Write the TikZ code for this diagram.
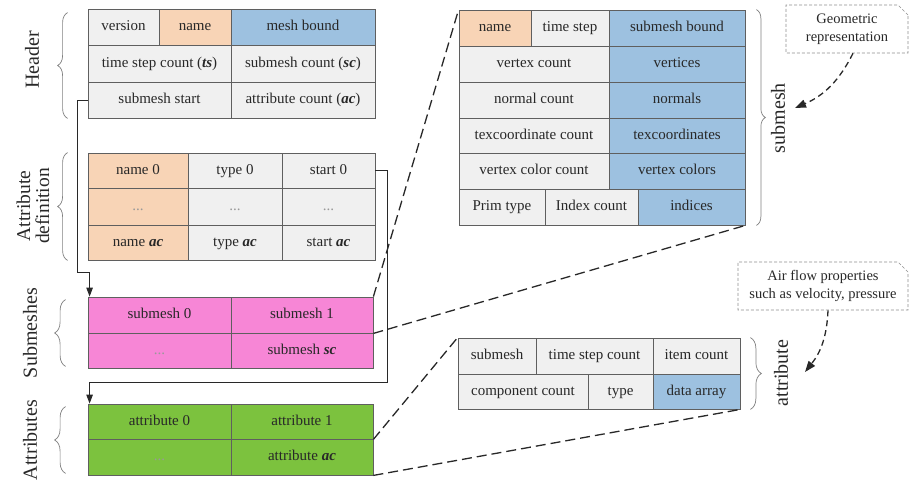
\documentclass[tikz,border=0pt]{standalone}
\usepackage{fontspec}
\setmainfont{Liberation Serif}
\usetikzlibrary{arrows.meta,decorations.pathreplacing,shapes.misc}

\definecolor{cellgray}{RGB}{240,240,240}
\definecolor{cellorange}{RGB}{248,212,182}
\definecolor{cellblue}{RGB}{157,193,224}
\definecolor{cellpink}{RGB}{247,134,214}
\definecolor{cellgreen}{RGB}{124,194,62}
\definecolor{edge}{RGB}{95,95,95}
\definecolor{ink}{RGB}{40,40,40}

% one table cell: name, x1, y1, x2, y2, fill, text
\newcommand\tcell[7]{%
  \node[cellbox, fill=#6, minimum width={(#4-#2)*1pt}, minimum height={(#5-#3)*1pt}]
    (#1) at ({(#2+#4)/2},{(#3+#5)/2}) {#7};}
\newcommand\bi[1]{\textbf{\textit{#1}}}
\newcommand\celldots{\textcolor{gray!80}{...}}

\tikzset{
  cellbox/.style={draw=edge, line width=0.8pt, inner sep=0pt, text=ink,
    text height=10pt, text depth=3pt, font=\fontsize{15}{17}\selectfont},
  brc/.style={decorate, decoration={brace, amplitude=#1}, draw=edge!80, line width=0.7pt},
  brc/.default=10pt,
  sidelabel/.style={rotate=90, text=ink, font=\fontsize{20}{18}\selectfont, align=center},
  conn/.style={draw=ink, line width=1pt, -{Triangle[length=9pt,width=6.5pt]}},
  zoomline/.style={draw=ink, line width=1.3pt, dash pattern=on 10pt off 5pt},
  note/.style={chamfered rectangle, chamfered rectangle corners=north east,
    chamfered rectangle xsep=5pt, chamfered rectangle ysep=5pt,
    draw=edge!70, line width=0.6pt, dash pattern=on 3pt off 2pt,
    inner sep=0pt, align=center, text=ink, font=\fontsize{14.5}{18}\selectfont},
  callarrow/.style={draw=ink, line width=1.3pt, dash pattern=on 6pt off 4pt,
    -{Triangle[length=11pt,width=8pt]}},
}

\begin{document}
\begin{tikzpicture}[x=1pt, y=-1pt]
\useasboundingbox (0,0) rectangle (910,485);

% ---- header ----
\tcell{hver}{88}{9}{159}{45}{cellgray}{version}
\tcell{hname}{159}{9}{231}{45}{cellorange}{name}
\tcell{hbound}{231}{9}{375}{45}{cellblue}{mesh bound}
\tcell{hts}{88}{45}{231}{82}{cellgray}{time step count (\bi{ts})}
\tcell{hsc}{231}{45}{375}{82}{cellgray}{submesh count (\bi{sc})}
\tcell{hss}{88}{82}{231}{118}{cellgray}{submesh start}
\tcell{hac}{231}{82}{375}{118}{cellgray}{attribute count (\bi{ac})}

% ---- attribute definition ----
\tcell{an0}{88}{153}{188}{188}{cellorange}{name 0}
\tcell{at0c}{188}{153}{282}{188}{cellgray}{type 0}
\tcell{as0}{282}{153}{375}{188}{cellgray}{start 0}
\tcell{and}{88}{188}{188}{225}{cellorange}{\celldots}
\tcell{atd}{188}{188}{282}{225}{cellgray}{\celldots}
\tcell{asd}{282}{188}{375}{225}{cellgray}{\celldots}
\tcell{anac}{88}{225}{188}{260}{cellorange}{name \bi{ac}}
\tcell{atac}{188}{225}{282}{260}{cellgray}{type \bi{ac}}
\tcell{asac}{282}{225}{375}{260}{cellgray}{start \bi{ac}}

% ---- submeshes ----
\tcell{sm0}{88}{297}{231}{333}{cellpink}{submesh 0}
\tcell{sm1}{231}{297}{373}{333}{cellpink}{submesh 1}
\tcell{smd}{88}{333}{231}{368}{cellpink}{\celldots}
\tcell{smsc}{231}{333}{373}{368}{cellpink}{submesh \bi{sc}}

% ---- attributes ----
\tcell{ab0}{88}{404}{231}{439}{cellgreen}{attribute 0}
\tcell{ab1}{231}{404}{373}{439}{cellgreen}{attribute 1}
\tcell{abd}{88}{439}{231}{475}{cellgreen}{\celldots}
\tcell{abac}{231}{439}{373}{475}{cellgreen}{attribute \bi{ac}}

% ---- submesh layout ----
\tcell{gname}{459}{10}{531}{46}{cellorange}{name}
\tcell{gstep}{531}{10}{609}{46}{cellgray}{time step}
\tcell{gbound}{609}{10}{745}{46}{cellblue}{submesh bound}
\tcell{gvc}{459}{46}{609}{82}{cellgray}{vertex count}
\tcell{gv}{609}{46}{745}{82}{cellblue}{vertices}
\tcell{gnc}{459}{82}{609}{118}{cellgray}{normal count}
\tcell{gn}{609}{82}{745}{118}{cellblue}{normals}
\tcell{gtc}{459}{118}{609}{153}{cellgray}{texcoordinate count}
\tcell{gt}{609}{118}{745}{153}{cellblue}{texcoordinates}
\tcell{gcc}{459}{153}{609}{189}{cellgray}{vertex color count}
\tcell{gc}{609}{153}{745}{189}{cellblue}{vertex colors}
\tcell{gprim}{459}{189}{545}{225}{cellgray}{Prim type}
\tcell{gic}{545}{189}{638}{225}{cellgray}{Index count}
\tcell{gidx}{638}{189}{745}{225}{cellblue}{indices}

% ---- attribute layout ----
\tcell{asub}{458}{338}{536}{374}{cellgray}{submesh}
\tcell{astep}{536}{338}{653}{374}{cellgray}{time step count}
\tcell{aitem}{653}{338}{740}{374}{cellgray}{item count}
\tcell{acomp}{458}{374}{588}{409}{cellgray}{component count}
\tcell{atype}{588}{374}{653}{409}{cellgray}{type}
\tcell{adata}{653}{374}{740}{409}{cellblue}{data array}

% ---- braces and section labels ----
\draw[brc=10pt] ([xshift=-20pt,yshift=0pt]hss.south west) -- ([xshift=-20pt,yshift=-4pt]hver.north west);
\draw[brc=10pt] ([xshift=-20pt]anac.south west) -- ([xshift=-20pt]an0.north west);
\draw[brc=11pt] ([xshift=-22pt,yshift=2pt]smd.south west) -- ([xshift=-22pt,yshift=-3pt]sm0.north west);
\draw[brc=11pt] ([xshift=-22pt,yshift=2pt]abd.south west) -- ([xshift=-22pt,yshift=-3pt]ab0.north west);
\draw[brc=9pt] ([xshift=11pt]gbound.north east) -- ([xshift=11pt]gidx.south east);
\draw[brc=11pt] ([xshift=10pt]aitem.north east) -- ([xshift=10pt]adata.south east);

\node[sidelabel] (lhead) at (32,60) {Header};
\node[sidelabel, font=\fontsize{19.5}{19}\selectfont] (ldef) at (33,206) {Attribute\\definition};
\node[sidelabel] (lsub) at (30,333) {Submeshes};
\node[sidelabel] (latt) at (30,440) {Attributes};
\node[sidelabel] (lsm) at (778,118) {submesh};
\node[sidelabel] (lat) at (781,373) {attribute};

% ---- offset links ----
\coordinate (j1) at (77,272);
\draw[conn] (hss.west) -| (j1) -- ([xshift=2pt]j1 -| sm0.north west) -- ([xshift=2pt]sm0.north west);
\coordinate (j2) at (387,382);
\draw[conn] (as0.east) -| (j2) -- ([xshift=2pt]j2 -| ab0.north west) -- ([xshift=2pt]ab0.north west);

% ---- expansion lines ----
\draw[zoomline] (sm1.north east) -- (gname.north west);
\draw[zoomline] (sm1.south east) -- (gidx.south east);
\draw[zoomline] (ab1.south east) -- (asub.north west);
\draw[zoomline] (abac.south east) -- (adata.south east);

% ---- notes ----
\node[note, minimum width=122pt, minimum height=48pt] (geo) at (847,29) {Geometric\\representation};
\node[note, minimum width=170pt, minimum height=48pt] (air) at (823,286) {Air flow properties\\such as velocity, pressure};
\coordinate (geotip) at (795,108);
\draw[callarrow] ([xshift=6pt]geo.south) to[bend left=20] (geotip);
\coordinate (airtip) at (805,372);
\draw[callarrow] ([xshift=5pt]air.south) to[bend left=18] (airtip);
\end{tikzpicture}
\end{document}
